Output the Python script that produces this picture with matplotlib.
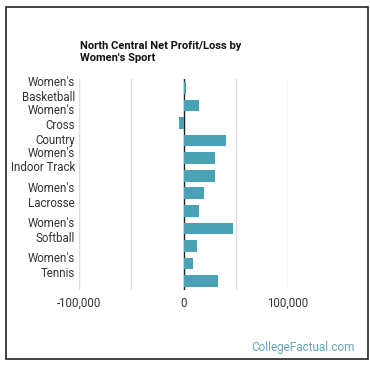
import matplotlib.pyplot as plt
from matplotlib.patches import Rectangle

plt.rcParams["font.family"] = ["Roboto", "DejaVu Sans"]

# Data (every other category label is hidden like in the original)
sports = ["Women's\nBasketball", "Women's\nBowling", "Women's\nCross\nCountry", "Women's\nGolf",
          "Women's\nIndoor Track", "Women's\nOutdoor Track", "Women's\nLacrosse", "Women's\nSoccer",
          "Women's\nSoftball", "Women's\nSwimming", "Women's\nTennis", "Women's\nVolleyball"]
net_profit = [2500, 14500, -3900, 40600, 30000, 30000, 19400, 14500, 47400, 12600, 8700, 32900]
x_ticks = [-100000, 0, 100000]
x_tick_labels = ["-100,000", "0", "100,000"]

bar_color = "#4aa3b4"

fig = plt.figure(figsize=(3.7, 3.7), dpi=100)
ax = fig.add_axes([79 / 370, 1 - 290 / 370, 209 / 370, 211 / 370])

y = list(range(len(sports)))
ax.barh(y, net_profit, height=0.66, color=bar_color, zorder=3)
ax.axvline(0, color="#222222", lw=1, zorder=2)

ax.set_xlim(-100000, 100000)
ax.set_ylim(len(sports) - 0.5, -0.5)

# gridlines
for g in [-100000, -50000, 50000, 100000]:
    ax.axvline(g, color="#dddddd", lw=1, zorder=1)

ax.set_xticks(x_ticks)
ax.set_xticklabels(x_tick_labels)
ax.set_yticks(y)
ax.set_yticklabels([s if i % 2 == 0 else "" for i, s in enumerate(sports)],
                   linespacing=1.18)
ax.tick_params(axis="both", length=0, labelsize=8.3, colors="#333333")
ax.tick_params(axis="x", pad=5)
ax.tick_params(axis="y", pad=3)
for sp in ax.spines.values():
    sp.set_visible(False)

fig.text(80 / 370, 1 - 41 / 370, "North Central Net Profit/Loss by\nWomen's Sport",
         fontsize=8, fontweight="bold", color="#111111", va="top", ha="left",
         linespacing=1.25)

fig.text(355 / 370, 1 - 348 / 370, "CollegeFactual.com", fontsize=8.5,
         color="#62a6b8", ha="right", va="center")

fig.patches.append(Rectangle((6 / 370, 1 - 359 / 370), 362 / 370, 352 / 370,
                             transform=fig.transFigure, fill=False,
                             edgecolor="#222222", lw=1.2))

fig.savefig("out.png", dpi=100)
